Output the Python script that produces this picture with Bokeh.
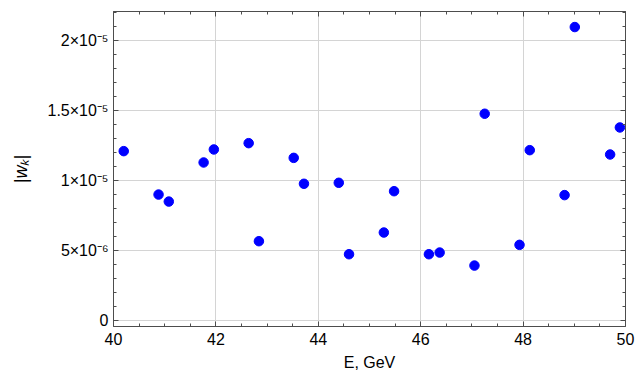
from bokeh.plotting import figure
from bokeh.models import LinearAxis, Range1d, SingleIntervalTicker, CustomJSTickFormatter
from bokeh.embed import file_html
from bokeh.resources import INLINE

energy = [40.20, 40.88, 41.08, 41.76, 41.96, 42.64, 42.84, 43.52, 43.72, 44.40, 44.60,
          45.28, 45.48, 46.16, 46.37, 47.05, 47.25, 47.93, 48.13, 48.81, 49.01, 49.70, 49.89]
wk = [12.07e-6, 8.97e-6, 8.47e-6, 11.26e-6, 12.19e-6, 12.64e-6, 5.64e-6, 11.59e-6, 9.74e-6,
      9.81e-6, 4.71e-6, 6.26e-6, 9.21e-6, 4.71e-6, 4.83e-6, 3.90e-6, 14.74e-6, 5.38e-6,
      12.14e-6, 8.93e-6, 20.93e-6, 11.83e-6, 13.76e-6]
y_tick_values = [0, 5e-6, 1e-5, 1.5e-5, 2e-5]
y_tick_labels = ["0", "5×10⁻⁶", "1×10⁻⁵", "1.5×10⁻⁵", "2×10⁻⁵"]

FONT = "Liberation Sans"
AXIS_COLOR = "#4d4d4d"

p = figure(width=635, height=374, output_backend="svg", toolbar_location=None,
           x_range=Range1d(40, 50), y_range=Range1d(-0.45e-6, 22.04e-6),
           min_border_left=113, min_border_right=10, min_border_top=11, min_border_bottom=48,
           x_axis_label="E, GeV", y_axis_label="|wₖ|")
p.outline_line_color = None
p.background_fill_color = "white"
p.border_fill_color = "white"

p.xaxis.ticker = SingleIntervalTicker(interval=2, num_minor_ticks=4)
p.yaxis.ticker = SingleIntervalTicker(interval=5e-6, num_minor_ticks=5)
p.yaxis.formatter = CustomJSTickFormatter(
    args=dict(vals=y_tick_values, labels=y_tick_labels),
    code="for (let i = 0; i < vals.length; i++) { if (Math.abs(tick - vals[i]) < 1e-9) return labels[i]; } return '';")

for ax in [p.xaxis[0], p.yaxis[0]]:
    ax.axis_line_color = AXIS_COLOR
    ax.major_tick_line_color = AXIS_COLOR
    ax.minor_tick_line_color = AXIS_COLOR
    ax.major_tick_in = 5
    ax.major_tick_out = 0
    ax.minor_tick_in = 3
    ax.minor_tick_out = 0
    ax.major_label_text_font = FONT
    ax.major_label_text_font_size = "16px"
    ax.major_label_text_color = "black"
    ax.axis_label_text_font = FONT
    ax.axis_label_text_font_size = "16px"
    ax.axis_label_text_font_style = "normal"
    ax.axis_label_text_color = "black"

p.xaxis.major_label_standoff = 6
p.yaxis.major_label_standoff = 5
p.yaxis.axis_label_text_font_style = "italic"
p.yaxis.axis_label_text_font_size = "18px"
p.yaxis.axis_label_standoff = 13
p.xaxis.axis_label_standoff = 6

for loc, tk in [("right", SingleIntervalTicker(interval=5e-6, num_minor_ticks=5)),
                ("above", SingleIntervalTicker(interval=2, num_minor_ticks=4))]:
    ax = LinearAxis(ticker=tk, formatter=CustomJSTickFormatter(code="return ''"))
    ax.axis_line_color = AXIS_COLOR
    ax.major_tick_line_color = AXIS_COLOR
    ax.minor_tick_line_color = AXIS_COLOR
    ax.major_tick_in = 5
    ax.major_tick_out = 0
    ax.minor_tick_in = 3
    ax.minor_tick_out = 0
    ax.major_label_text_font_size = "1px"
    ax.major_label_standoff = 0
    p.add_layout(ax, loc)

p.xgrid.grid_line_color = "#d4d4d4"
p.ygrid.grid_line_color = "#d4d4d4"
p.xgrid.grid_line_width = 1
p.ygrid.grid_line_width = 1

p.scatter(energy, wk, size=9.5, color="#0000ff", line_color="#0000ff")

open("out.html", "w").write(file_html(p, INLINE))
